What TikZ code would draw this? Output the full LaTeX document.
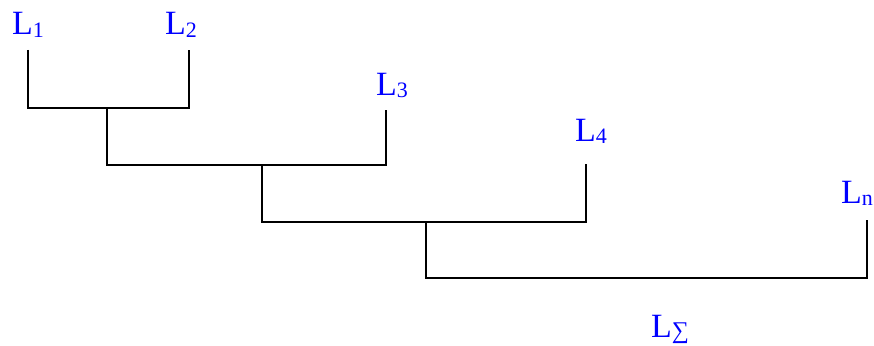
\documentclass[tikz,border=0pt]{standalone}
\usepackage{fontspec}
\setmainfont{Liberation Serif}
\usetikzlibrary{positioning}
\tikzset{lab/.style={text=blue,font=\fontsize{34}{34}\selectfont,inner sep=0pt,anchor=base west},
        link/.style={line width=2pt}}
\newcommand{\idx}[1]{{\fontsize{22}{22}\selectfont\raisebox{-2pt}{#1}}}

\begin{document}
\begin{tikzpicture}[x=1pt,y=-1pt]
  \useasboundingbox (0,0) rectangle (874,345);
  % labels
  \node[lab] (L1) at (12,35) {L\idx{1}};
  \node[lab] (L2) at (165,35) {L\idx{2}};
  \node[lab] (L3) at (376,95) {L\idx{3}};
  \node[lab] (L4) at (575,141) {L\idx{4}};
  \node[lab] (Ln) at (841,203) {L\idx{n}};
  \node[lab] (Ls) at (651,337) {L{\fontsize{24}{24}\selectfont\raisebox{-1pt}{∑}}};
  % leaf tops and joins
  \coordinate (t1) at (28,50);
  \coordinate (t2) at (189,50);
  \coordinate (t3) at (386,110);
  \coordinate (t4) at (586,164);
  \coordinate (t5) at (867,220);
  \coordinate (b1) at (107,108);
  \coordinate (b2) at (262,165);
  \coordinate (b3) at (426,222);
  \coordinate (e)  at (867,278);
  \draw[link] (t1) |- (b1) -| (t2);
  \draw[link] (b1) |- (b2) -| (t3);
  \draw[link] (b2) |- (b3) -| (t4);
  \draw[link] (b3) |- (e) -- (t5);
\end{tikzpicture}
\end{document}
